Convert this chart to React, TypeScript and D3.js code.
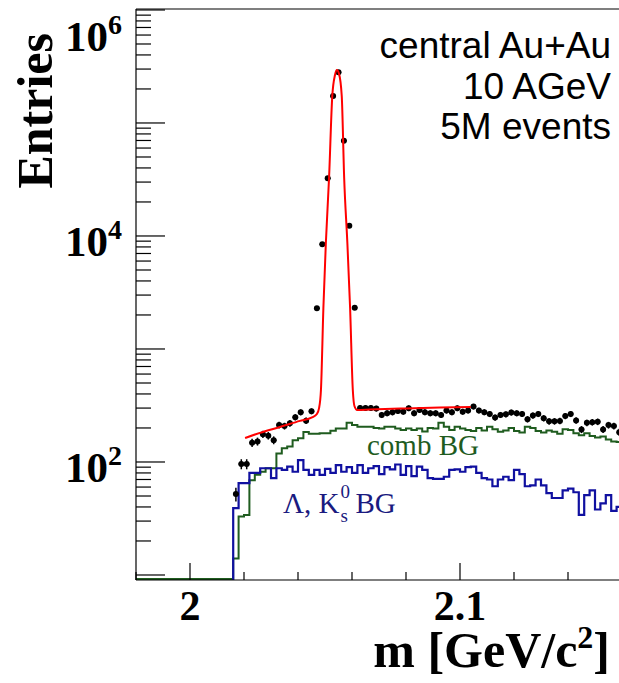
import React, { useEffect, useRef } from 'react';
import * as d3 from 'd3';

// binning of the invariant-mass histogram
const binStart = 1.98;
const binWidth = 0.002;

// data points (entries per bin), bins 0..89
const dataCounts = [
  0, 0, 0, 0, 0, 0, 0, 0, 0, 0,
  0, 0, 0, 0, 0, 0, 0, 0, 52, 96,
  96, 148, 152, 176, 171, 156, 212, 208, 220, 249,
  275, 232, 281, 2290, 8450, 32400, 173000, 281000, 69700, 12300,
  2320, 300, 300, 300, 297, 261, 270, 275, 283, 279,
  299, 270, 289, 276, 270, 270, 261, 285, 276, 299,
  279, 285, 309, 285, 276, 266, 247, 261, 264, 274,
  270, 266, 239, 258, 266, 244, 229, 229, 231, 255,
  266, 233, 194, 222, 225, 227, 194, 212, 208, 183,
];

// combinatorial background
const combBG = [
  0, 0, 0, 0, 0, 0, 0, 0, 0, 0,
  0, 0, 0, 0, 0, 0, 0, 0, 14, 33,
  34, 69, 77, 82, 88, 88, 119, 132, 137, 156,
  162, 184, 178, 178, 180, 180, 189, 198, 198, 222,
  212, 205, 205, 205, 200, 198, 205, 205, 198, 192,
  198, 192, 198, 186, 200, 198, 222, 205, 192, 205,
  198, 192, 188, 200, 190, 205, 195, 185, 190, 200,
  188, 182, 205, 200, 188, 182, 190, 185, 178, 195,
  192, 180, 172, 180, 170, 165, 168, 158, 152, 150,
];

// Lambda, K0s background
const v0BG = [
  0, 0, 0, 0, 0, 0, 0, 0, 0, 0,
  0, 0, 0, 0, 0, 0, 0, 0, 39, 65,
  65, 80, 80, 88, 88, 72, 88, 85, 91, 82,
  104, 85, 77, 85, 77, 87, 80, 94, 82, 90,
  80, 94, 80, 88, 92, 78, 90, 86, 95, 77,
  92, 75, 91, 85, 72, 71, 71, 74, 85, 86,
  82, 90, 91, 80, 72, 70, 61, 70, 74, 69,
  85, 78, 61, 62, 70, 62, 53, 48, 48, 56,
  58, 54, 34, 51, 56, 38, 43, 51, 37, 40,
];

// fit curve
const fitMass = [
  2.0204, 2.0259, 2.0333, 2.0407, 2.0452, 2.047, 2.0478, 2.0485, 2.0494, 2.0503,
  2.0515, 2.0527, 2.0537, 2.0544, 2.0552, 2.0562, 2.0571, 2.0583, 2.0593, 2.0603,
  2.0609, 2.0619, 2.0667, 2.0778, 2.0926, 2.104,
];
const fitValue = [
  163, 181, 204, 231, 248, 266, 300, 434, 2290, 8490,
  32600, 173500, 266000, 294000, 272000, 173500, 32600, 8490, 2290, 434,
  313, 288, 291, 297, 304, 307,
];

const xMajorTicks = [2.0, 2.1];
const xMajorLabels = ['2', '2.1'];
const yLabelPowers = [2, 4, 6];
const infoLines = ['central Au+Au', '10 AGeV', '5M events'];

const W = 619;
const H = 683;

const App = () => {
  const ref = useRef<SVGSVGElement>(null);

  useEffect(() => {
    document.body.style.margin = '0';
    const svg = d3.select(ref.current);
    svg.selectAll('*').remove();

    const left = 136, right = 622, top = 9, bottom = 580;
    const x = d3.scaleLinear().domain([1.98, 2.16]).range([left, right]);
    const y = d3.scaleLog().domain([9.03, 1.02e6]).range([bottom, top]);
    const yv = (v: number) => (v > 0 ? y(v) : bottom - 1);

    svg.append('defs').append('clipPath').attr('id', 'frame')
      .append('rect').attr('x', left).attr('y', top).attr('width', W - left).attr('height', bottom - top);

    const plot = svg.append('g').attr('clip-path', 'url(#frame)');

    const edges = d3.range(dataCounts.length + 1).map((i) => binStart + i * binWidth);

    const stepPoints = (vals: number[], from: number) => {
      const pts: [number, number][] = [];
      if (from > 0) pts.push([x(edges[from]), bottom]);
      for (let i = from; i < vals.length; i++) {
        pts.push([x(edges[i]), yv(vals[i])]);
        pts.push([x(edges[i + 1]), yv(vals[i])]);
      }
      return pts;
    };
    const line = d3.line();

    // comb BG (dark green)
    plot.append('path')
      .attr('d', line(stepPoints(combBG, 0)))
      .attr('fill', 'none').attr('stroke', '#1f5c1f').attr('stroke-width', 2);

    // Lambda, K0s BG (blue)
    plot.append('path')
      .attr('d', line(stepPoints(v0BG, 18)))
      .attr('fill', 'none').attr('stroke', '#1010a0').attr('stroke-width', 2.2);

    // data points with error bars
    const pts = dataCounts.map((v, i) => ({ v, i })).filter((d) => d.v > 0);
    const g = plot.append('g');
    pts.forEach(({ v, i }) => {
      const cx = x(edges[i] + binWidth / 2);
      const cy = y(v);
      const e = Math.sqrt(v);
      g.append('line').attr('x1', x(edges[i])).attr('x2', x(edges[i + 1]))
        .attr('y1', cy).attr('y2', cy).attr('stroke', '#000').attr('stroke-width', 1.5);
      g.append('line').attr('x1', cx).attr('x2', cx)
        .attr('y1', y(v + e)).attr('y2', y(v - e)).attr('stroke', '#000').attr('stroke-width', 1.5);
      g.append('circle').attr('cx', cx).attr('cy', cy).attr('r', 3).attr('fill', '#000');
    });

    // fit
    const fitLine = d3.line<number>()
      .x((_, i) => x(fitMass[i]))
      .y((d) => y(d))
      .curve(d3.curveMonotoneX);
    plot.append('path')
      .attr('d', fitLine(fitValue))
      .attr('fill', 'none').attr('stroke', '#ff0000').attr('stroke-width', 2);

    // frame / axes
    const ax = svg.append('g').attr('stroke', '#000').attr('stroke-width', 1.2);
    ax.append('line').attr('x1', left).attr('x2', W).attr('y1', top).attr('y2', top);
    ax.append('line').attr('x1', left).attr('x2', left).attr('y1', top).attr('y2', bottom);
    ax.append('line').attr('x1', left).attr('x2', W).attr('y1', bottom).attr('y2', bottom);

    // y ticks
    for (let p = 1; p <= 6; p++) {
      for (let m = 1; m <= 9; m++) {
        const v = m * Math.pow(10, p);
        if (v > 1.02e6) continue;
        const len = m === 1 ? 29 : 15;
        ax.append('line').attr('x1', left).attr('x2', left + len).attr('y1', y(v)).attr('y2', y(v));
      }
    }
    // x ticks
    d3.range(0, 10).map((k) => 1.98 + k * 0.02).forEach((t) => {
      const major = xMajorTicks.some((mt) => Math.abs(mt - t) < 1e-6);
      ax.append('line').attr('x1', x(t)).attr('x2', x(t))
        .attr('y1', bottom).attr('y2', bottom - (major ? 17 : 8));
    });

    const serif = "'Liberation Serif', 'Times New Roman', serif";
    const sans = "'Liberation Sans', Arial, sans-serif";

    // y labels
    yLabelPowers.forEach((p) => {
      const ty = Math.max(y(Math.pow(10, p)) + 20, 51);
      svg.append('text').attr('x', 108).attr('y', ty).attr('text-anchor', 'end')
        .attr('font-family', serif).attr('font-weight', 'bold').attr('font-size', 43).text('10');
      svg.append('text').attr('x', 108).attr('y', ty - 17).attr('text-anchor', 'start')
        .attr('font-family', serif).attr('font-weight', 'bold').attr('font-size', 28).text(String(p));
    });

    // x labels
    xMajorTicks.forEach((t, i) => {
      svg.append('text').attr('x', x(t)).attr('y', 620).attr('text-anchor', 'middle')
        .attr('font-family', serif).attr('font-weight', 'bold').attr('font-size', 42).text(xMajorLabels[i]);
    });

    // axis titles
    const xt = svg.append('text').attr('x', 610).attr('y', 667).attr('text-anchor', 'end')
      .attr('font-family', serif).attr('font-weight', 'bold').attr('font-size', 50);
    xt.append('tspan').text('m [GeV/c');
    xt.append('tspan').attr('dy', -19).attr('font-size', 32).text('2');
    xt.append('tspan').attr('dy', 19).text(']');

    svg.append('text').attr('transform', 'translate(52,33) rotate(-90)').attr('text-anchor', 'end')
      .attr('font-family', serif).attr('font-weight', 'bold').attr('font-size', 50).text('Entries');

    // info text
    infoLines.forEach((s, i) => {
      svg.append('text').attr('x', 611).attr('y', [58, 99, 139][i]).attr('text-anchor', 'end')
        .attr('font-family', sans).attr('font-size', 37).attr('fill', '#000').text(s);
    });

    // legend labels
    svg.append('text').attr('x', 367).attr('y', 455)
      .attr('font-family', serif).attr('font-size', 29).attr('fill', '#1f5c1f').text('comb BG');
    const lam = svg.append('text').attr('x', 283).attr('y', 513)
      .attr('font-family', serif).attr('font-size', 29).attr('fill', '#1a1a80').text('\u039B, K');
    const lw = (lam.node() as SVGTextElement).getComputedTextLength();
    svg.append('text').attr('x', 283 + lw + 1).attr('y', 498)
      .attr('font-family', serif).attr('font-size', 19).attr('fill', '#1a1a80').text('0');
    svg.append('text').attr('x', 283 + lw + 1).attr('y', 522)
      .attr('font-family', serif).attr('font-size', 19).attr('fill', '#1a1a80').text('s');
    svg.append('text').attr('x', 283 + lw + 16).attr('y', 513)
      .attr('font-family', serif).attr('font-size', 29).attr('fill', '#1a1a80').text('BG');
  }, []);

  return <svg ref={ref} width={W} height={H} style={{ display: 'block' }} />;
};

export default App;
